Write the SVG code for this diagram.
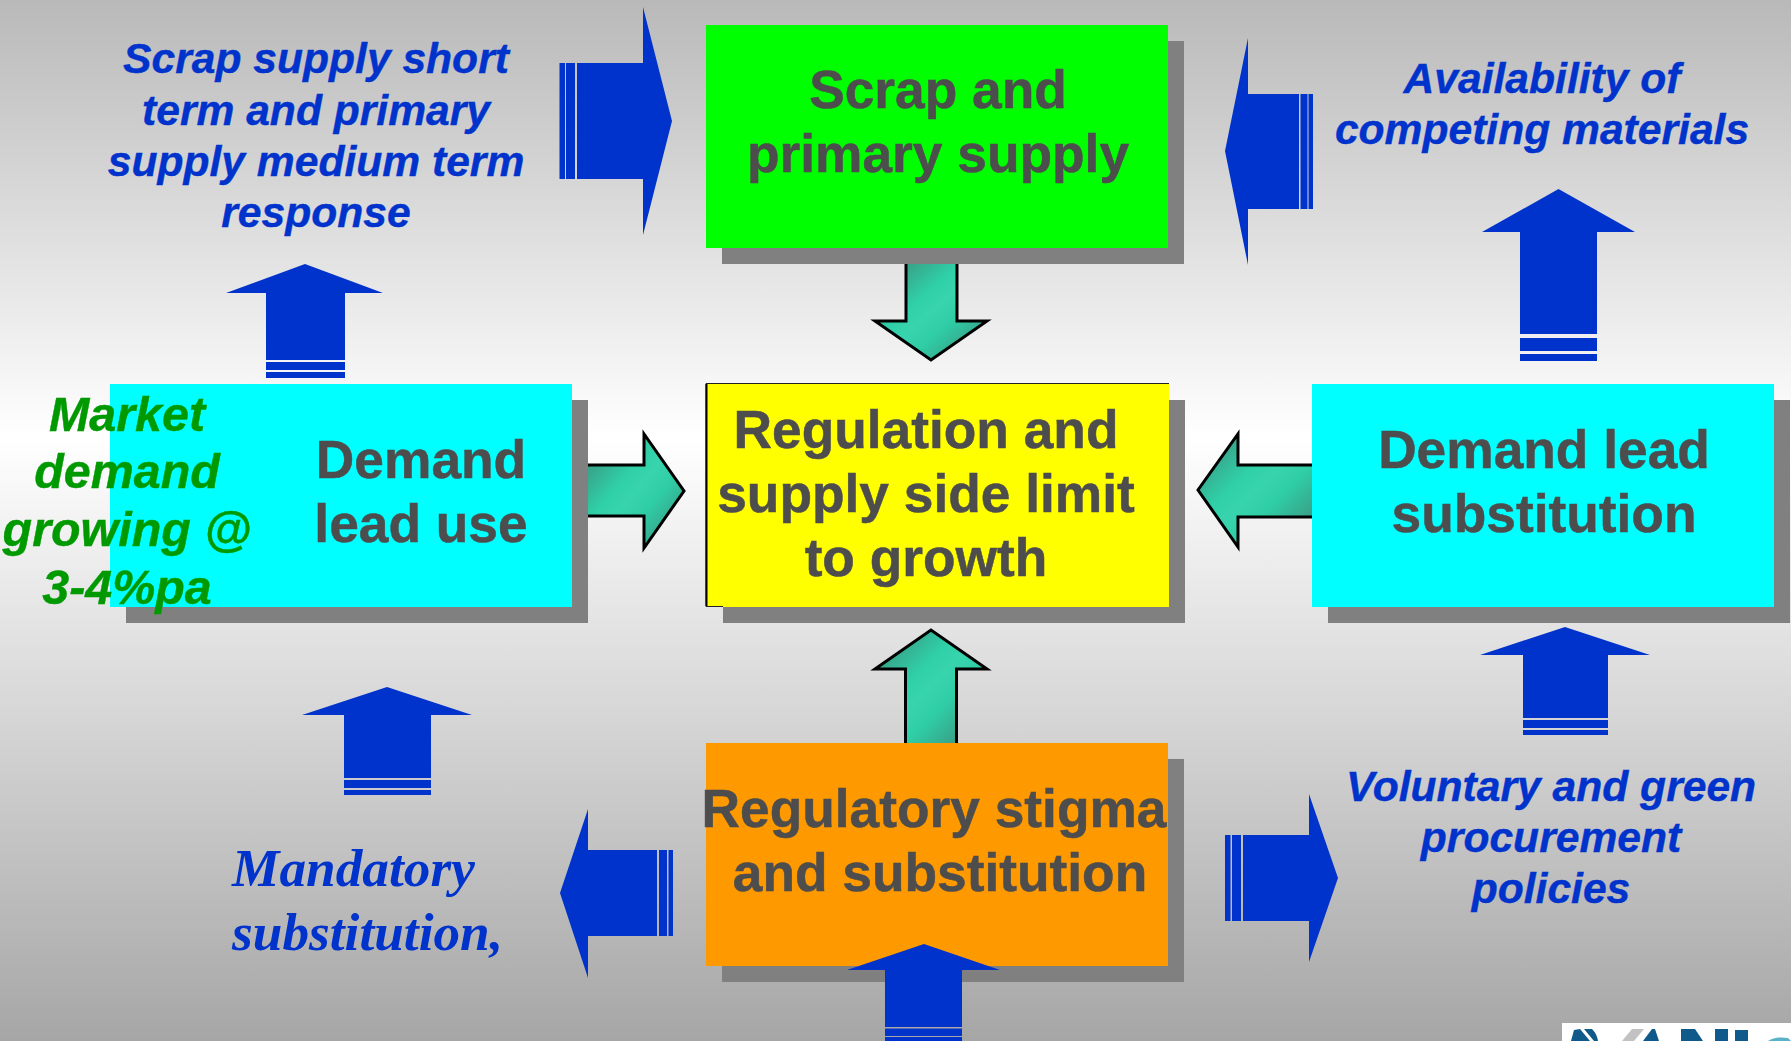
<svg xmlns="http://www.w3.org/2000/svg" width="1791" height="1041" viewBox="0 0 1791 1041">
<style>
.shadow{fill:#808080}
.box{font:bold 53.300px "Liberation Sans",Arial,sans-serif;fill:#4d4d4d;stroke:#4d4d4d;stroke-width:.5;text-anchor:middle}
.lab{font:italic bold 42.600px "Liberation Sans",Arial,sans-serif;fill:#0033cc;stroke:#0033cc;stroke-width:.4;text-anchor:middle}
.green{font:italic bold 48.400px "Liberation Sans",Arial,sans-serif;fill:#009900;stroke:#009900;stroke-width:.4;text-anchor:middle}
.serif{font:italic bold 53.300px "Liberation Serif","Times New Roman",serif;fill:#0033cc}
.blue{fill:#0033cc}
.teal{fill:url(#tealfill);stroke:#000;stroke-width:3;stroke-linejoin:miter}
</style>
<defs>
<linearGradient id="bg" x1="0" y1="0" x2="0" y2="1">
<stop offset="0" stop-color="#b9b9b9"/><stop offset="0.42" stop-color="#ffffff"/><stop offset="1" stop-color="#a6a6a6"/>
</linearGradient>
<linearGradient id="tealfill" x1="0" y1="0" x2="1" y2="1">
<stop offset="0.12" stop-color="#3a9c84"/><stop offset="0.38" stop-color="#2fd0a8"/><stop offset="0.5" stop-color="#38d4ad"/><stop offset="0.64" stop-color="#2fcda6"/><stop offset="0.88" stop-color="#3a9c84"/>
</linearGradient>
</defs>
<rect width="1791" height="1041" fill="url(#bg)"/>

<g id="node-scrap-supply">
<rect class="shadow" x="722" y="41" width="462" height="223"/>
<rect x="706" y="25" width="462" height="223" fill="#00ff00"/>
<text class="box" x="938" y="108">Scrap and</text>
<text class="box" x="938" y="172">primary supply</text>
</g>
<g id="node-demand-use">
<rect class="shadow" x="126" y="400" width="462" height="223"/>
<rect x="110" y="384" width="462" height="223" fill="#00ffff"/>
<text class="box" x="421" y="478">Demand</text>
<text class="box" x="421" y="542">lead use</text>
</g>
<g id="node-regulation">
<rect class="shadow" x="723" y="400" width="462" height="223"/>
<rect x="706" y="383" width="463" height="224" fill="#ffff00"/>
<path d="M723 606.500H706V383.500H1169" fill="none" stroke="#222" stroke-width="1"/>
<path d="M706.500 384V606" fill="none" stroke="#000" stroke-width="2"/>
<text class="box" x="926" y="448">Regulation and</text>
<text class="box" x="926" y="512">supply side limit</text>
<text class="box" x="926" y="576">to growth</text>
</g>
<g id="node-demand-substitution">
<rect class="shadow" x="1328" y="400" width="462" height="223"/>
<rect x="1312" y="384" width="462" height="223" fill="#00ffff"/>
<text class="box" x="1544" y="468">Demand lead</text>
<text class="box" x="1544" y="532">substitution</text>
</g>
<g id="node-stigma">
<rect class="shadow" x="722" y="759" width="462" height="223"/>
<rect x="706" y="743" width="462" height="223" fill="#ff9900"/>
<text class="box" x="934" y="827">Regulatory stigma</text>
<text class="box" x="940" y="891">and substitution</text>
</g>

<g id="label-scrap-response">
<text class="lab" x="316" y="73">Scrap supply short</text>
<text class="lab" x="316" y="125">term and primary</text>
<text class="lab" x="316" y="176">supply medium term</text>
<text class="lab" x="316" y="227">response</text>
</g>
<g id="label-competing">
<text class="lab" x="1542" y="93">Availability of</text>
<text class="lab" x="1542" y="144">competing materials</text>
</g>
<g id="label-market">
<text class="green" x="127" y="431">Market</text>
<text class="green" x="127" y="488">demand</text>
<text class="green" x="127" y="546">growing @</text>
<text class="green" x="127" y="604">3-4%pa</text>
</g>
<g id="label-mandatory">
<text class="serif" x="232" y="886">Mandatory</text>
<text class="serif" x="232" y="950">substitution,</text>
</g>
<g id="label-voluntary">
<text class="lab" x="1551" y="801">Voluntary and green</text>
<text class="lab" x="1551" y="852">procurement</text>
<text class="lab" x="1551" y="903">policies</text>
</g>
<g id="logo">
<rect x="1562" y="1023" width="229" height="18" fill="#ffffff"/>
<path d="M1571 1041L1574 1030L1580 1029L1590 1041Z" fill="#0f5a8a"/>
<path d="M1584 1029H1592Q1597 1034 1598 1041H1594Z" fill="#0f5a8a"/>
<path d="M1622 1041L1632 1029H1644L1634 1041Z" fill="#c2c2c2"/>
<path d="M1643 1041L1652 1029H1655L1659 1041Z" fill="#0f5a8a"/>
<path d="M1681 1041V1029H1695L1703 1041H1695V1041Z" fill="#0f5a8a"/>
<rect x="1715" y="1029" width="13" height="12" fill="#0f5a8a"/>
<rect x="1735" y="1030" width="13" height="11" fill="#0f5a8a"/>
<path d="M1768 1041Q1776 1036 1788 1038L1791 1041Z" fill="#5ab2c8"/>
</g>

<g id="connectors">
<path class="teal" d="M957 264V321H987L931 360L875 321H906V264"/>
<path class="teal" d="M905.500 743V669H875L931 630L987 669H956.500V743"/>
<path class="teal" d="M588 465H644V434L684 491L644 548V516H588"/>
<path class="teal" d="M1312 465H1238V434L1198 490L1238 547V517H1312"/>

<!-- top left: right-pointing -->
<path class="blue" d="M577 63H643V7L672 121L643 235V179H577Z"/>
<rect class="blue" x="566" y="63" width="9" height="116"/>
<rect class="blue" x="559.500" y="63" width="5.500" height="116"/>
<!-- top right: left-pointing -->
<path class="blue" d="M1299 94H1248V38L1225 151L1248 265V209H1299Z"/>
<rect class="blue" x="1300.500" y="94" width="7" height="115"/>
<rect class="blue" x="1308.500" y="94" width="4.500" height="115"/>
<!-- up right upper -->
<path class="blue" d="M1520 334V232H1482L1558.500 189L1635 232H1597V334Z"/>
<rect class="blue" x="1520" y="338" width="77" height="13"/>
<rect class="blue" x="1520" y="354" width="77" height="7"/>
<!-- up left upper -->
<path class="blue" d="M266 360V293H226L305 264L383 293H345V360Z"/>
<rect class="blue" x="266" y="362" width="79" height="8"/>
<rect class="blue" x="266" y="372" width="79" height="6"/>
<!-- up right lower -->
<path class="blue" d="M1523 718V655H1480L1565 627L1650 655H1608V718Z"/>
<rect class="blue" x="1523" y="720" width="85" height="8"/>
<rect class="blue" x="1523" y="730" width="85" height="5"/>
<!-- up left lower -->
<path class="blue" d="M344 778V715H302L387 687L472 715H431V778Z"/>
<rect class="blue" x="344" y="780" width="87" height="8"/>
<rect class="blue" x="344" y="790" width="87" height="5"/>
<!-- left lower -->
<path class="blue" d="M657 850H588V809L560 893L588 978V936H657Z"/>
<rect class="blue" x="659" y="850" width="8" height="86"/>
<rect class="blue" x="668.500" y="850" width="4.500" height="86"/>
<!-- right lower -->
<path class="blue" d="M1243 835H1309V794L1338 878L1309 962V921H1243Z"/>
<rect class="blue" x="1232" y="835" width="9" height="86"/>
<rect class="blue" x="1225" y="835" width="5.500" height="86"/>
<!-- bottom up -->
<path class="blue" d="M885 1027V970H847L924 944L1000 970H962V1027Z"/>
<rect class="blue" x="885" y="1028.500" width="77" height="7.500"/>
<rect class="blue" x="885" y="1037" width="77" height="4"/>
</g>
</svg>
